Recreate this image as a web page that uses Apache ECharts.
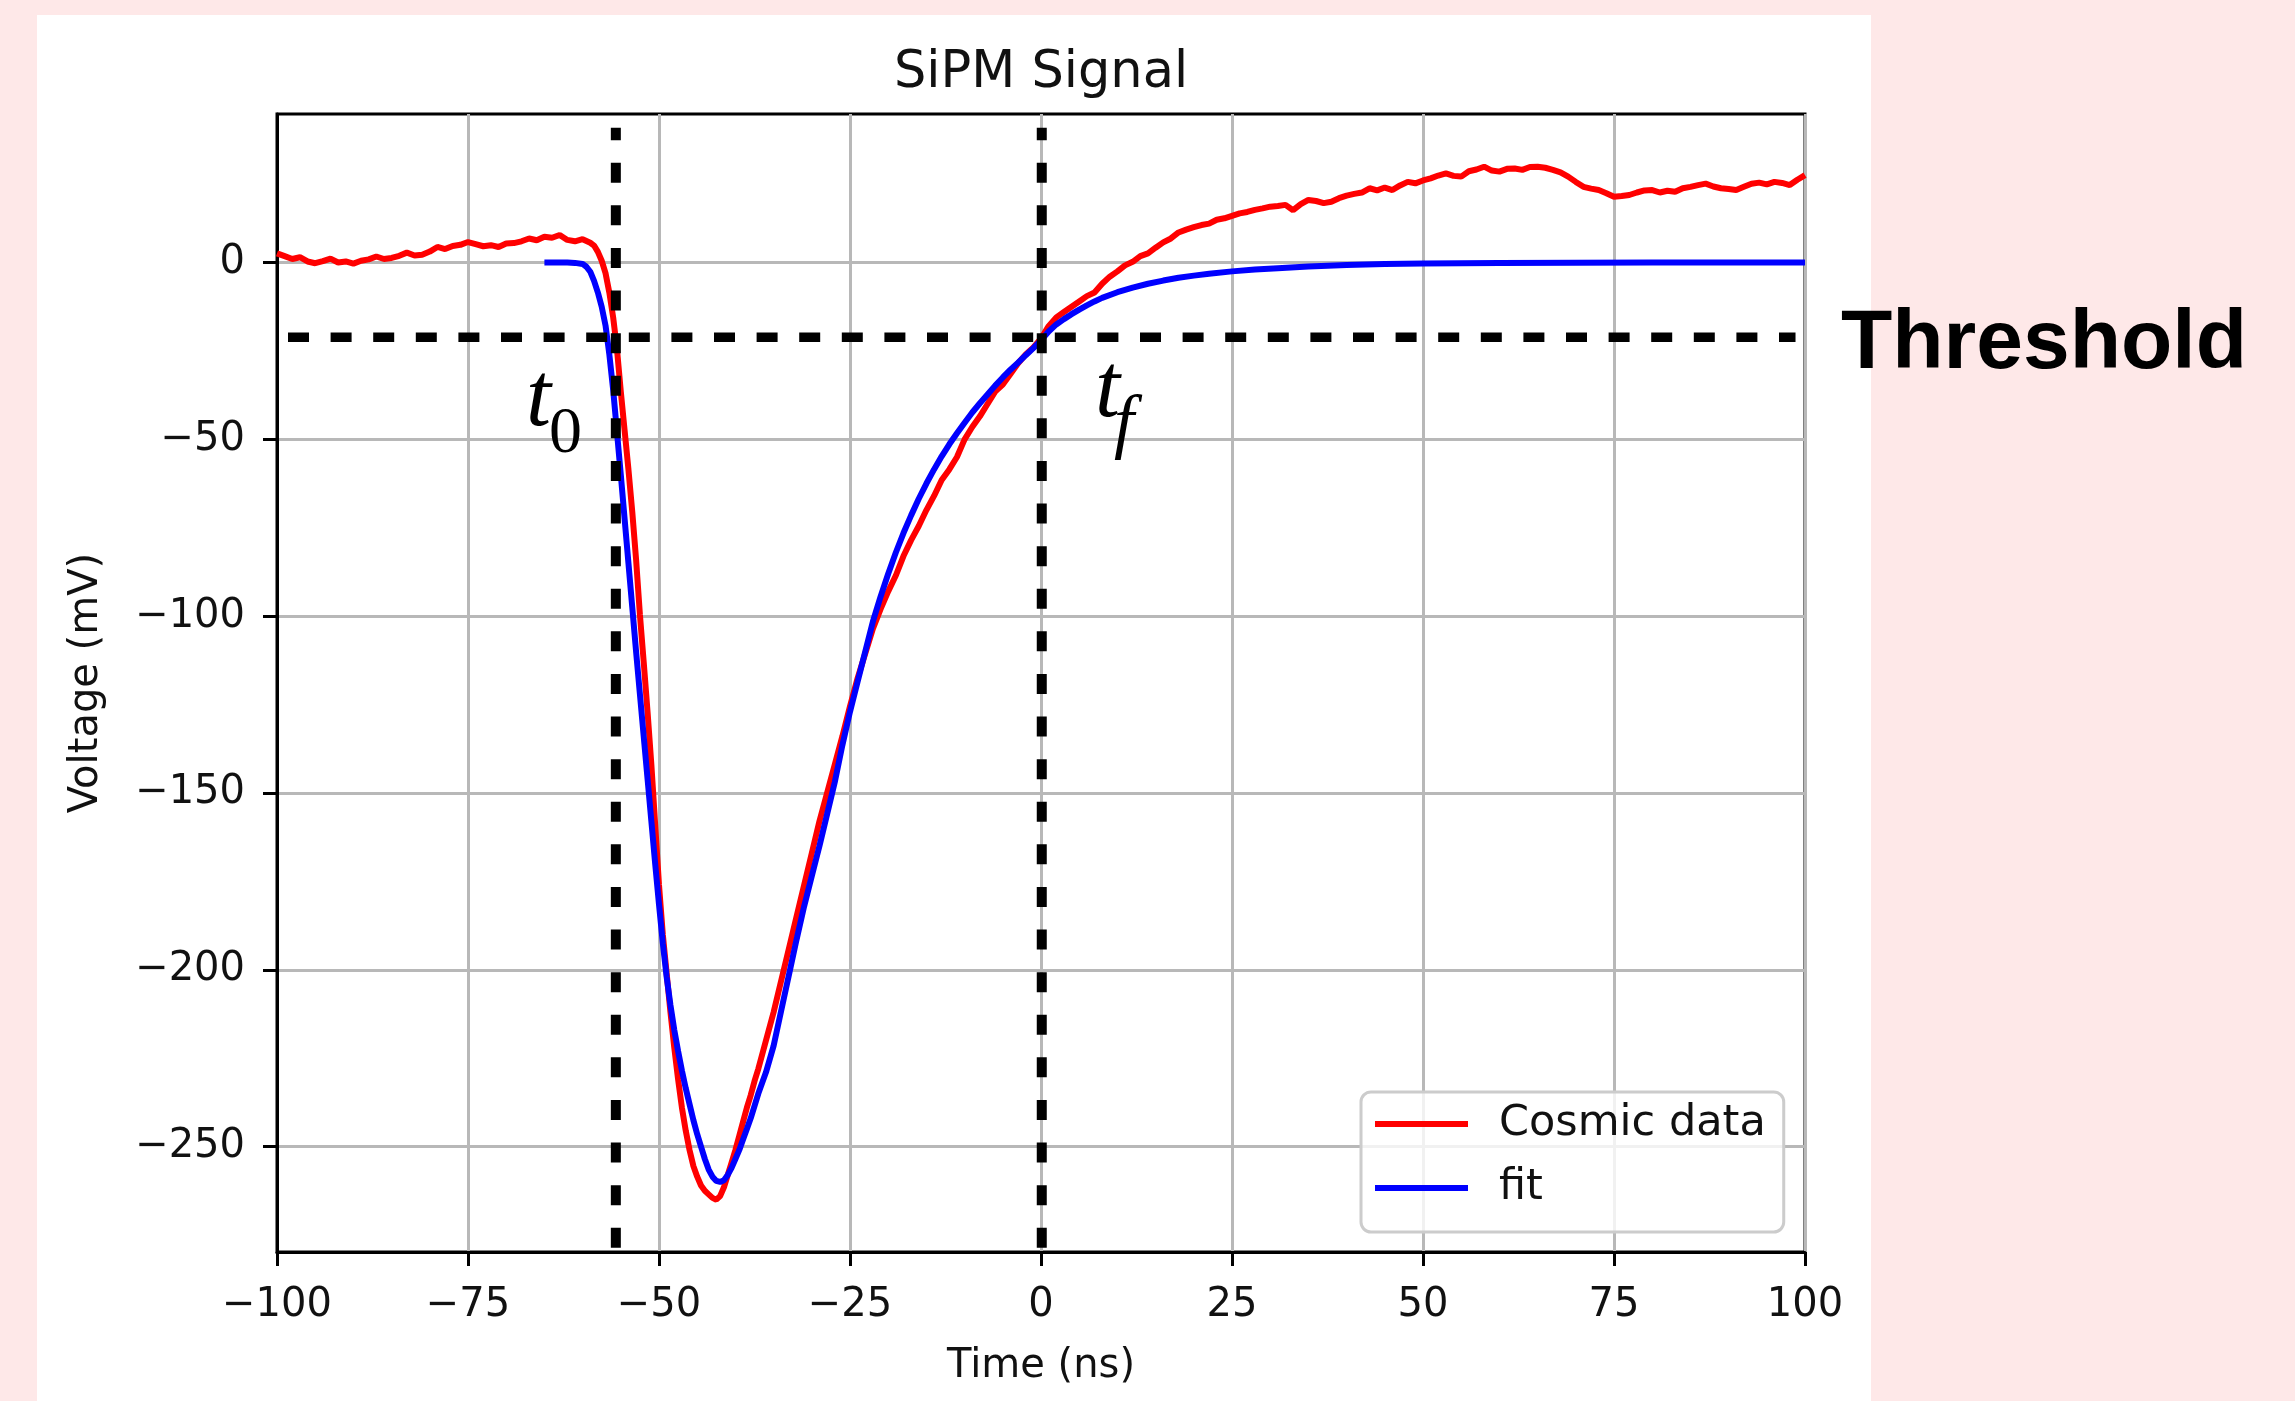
<!DOCTYPE html>
<html>
<head>
<meta charset="utf-8">
<script src="https://cdn.jsdelivr.net/npm/echarts@6/dist/echarts.min.js"></script>
<style>
  html, body { margin: 0; padding: 0; background: #fee8e8; }
  #panel { position: absolute; left: 37px; top: 15px; width: 1834px; height: 1386px; background: #ffffff; }
  #chart { position: absolute; left: 0; top: 0; width: 2295px; height: 1401px; }
</style>
</head>
<body>
<div id="panel"></div>
<div id="chart"></div>
<script>
// ---------- data ----------
const cosmicTime = [
  -100,-99,-98,-97,-96,-95,-94,-93,-92,-91,-90,-89,-88,-87,-86,-85,-84,-83,-82,-81,
  -80,-79,-78,-77,-76,-75,-74,-73,-72,-71,-70,-69,-68,-67,-66,-65,-64,-63,-62,-61,-60,-59,
  -58.5,-58,-57.5,-57,-56.5,-56,-55.5,-55,-54.5,-54,-53.5,-53,-52.5,-52,-51.5,-51,-50.5,-50,
  -49.5,-49,-48.5,-48,-47.5,-47,-46.5,-46,-45.5,-45,-44.5,-44,-43.5,-43,-42.5,-42,-41.5,-41,
  -40.5,-40,-39.5,-39,-38.5,-38,-37.5,
  -37,-36,-35,-34,-33,-32,-31,-30,-29,-28,-27,-26,-25,-24,-23,-22,-21,-20,-19,-18,-17,-16,
  -15,-14,-13,-12,-11,-10,-9,-8,-7,-6,-5,-4,-3,-2,-1,0,1,2,3,4,5,6,7,8,9,10,
  11,12,13,14,15,16,17,18,19,20,21,22,23,24,25,26,27,28,29,30,31,32,33,34,35,36,37,38,39,40,
  41,42,43,44,45,46,47,48,49,50,51,52,53,54,55,56,57,58,59,60,61,62,63,64,65,66,67,68,69,70,
  71,72,73,74,75,76,77,78,79,80,81,82,83,84,85,86,87,88,89,90,91,92,93,94,95,96,97,98,99,100
];
const cosmicVoltage = [
  2.6,1.8,1.0,1.5,0.3,-0.2,0.4,1.1,0.0,0.3,-0.3,0.5,0.9,1.7,1.0,1.3,1.9,2.8,2.0,2.2,
  3.1,4.4,3.8,4.7,5.0,5.8,5.2,4.6,4.9,4.4,5.4,5.5,6.0,6.8,6.3,7.3,7.0,7.8,6.4,6.0,6.6,5.6,
  4.8,3.0,0.5,-3.0,-8.5,-15.5,-24.5,-36.5,-47.5,-58.5,-70.5,-84,-99.5,-113,-127,-142,-159,-176,
  -190,-201,-212,-222,-231,-239,-245.5,-251,-255.5,-258.5,-261,-262.5,-263.5,-264.5,-265,-264,-261.5,-258,
  -254.5,-251,-247,-243,-239,-235.5,-231.5,
  -228,-220,-212,-203,-194,-185,-176,-167,-158,-150,-142,-134,-125.5,-117.5,-110.5,-103.5,-98,-93,-88.5,-83,-78.5,-74.5,
  -70,-66,-61.5,-58.5,-55,-50,-46.5,-43.5,-40,-36.5,-34.5,-31.5,-28.5,-26,-24,-21.5,-18,-15.5,-14,-12.5,-11,-9.5,-8.5,-6,-4,-2.5,
  -0.8,0.2,1.8,2.6,4.2,5.7,6.8,8.5,9.3,10.0,10.6,11.0,12.1,12.5,13.2,13.9,14.3,14.9,15.3,15.8,16.0,16.3,14.8,16.5,17.7,17.4,16.8,17.2,18.2,18.9,
  19.4,19.8,21.0,20.4,21.2,20.5,21.8,22.8,22.4,23.2,23.8,24.6,25.2,24.5,24.3,25.8,26.3,27.1,26.0,25.7,26.5,26.6,26.2,27.0,27.1,26.8,26.2,25.5,24.3,22.8,
  21.4,20.9,20.5,19.6,18.6,18.8,19.1,19.8,20.4,20.5,19.8,20.3,20.0,21.0,21.4,21.9,22.3,21.5,21.0,20.8,20.5,21.4,22.3,22.6,22.1,22.8,22.5,21.9,23.4,24.7
];
const fitTime = [
  -65,-64,-63,-62,-61,-60,-59.5,-59,-58.5,-58,-57.5,-57,-56.5,-56,-55.5,-55,-54.5,-54,-53.5,-53,
  -52.5,-52,-51.5,-51,-50.5,-50,-49.5,-49,-48.5,-48,-47.5,-47,-46.5,-46,-45.5,-45,-44.5,-44,-43.5,-43,
  -42.5,-42,-41.5,-41,-40.5,-40,-39.5,-39,-38.5,-38,
  -37,-36,-35,-34,-33,-32,-31,-30,-29,-28,-27,-26,-25,-24,-23,-22,-21,-20,-19,-18,-17,-16,-15,-14,-13,-12,-11,
  -10,-9,-8,-7,-6,-5,-4,-3,-2,-1,0,1,2,3,4,5,6,7,8,10,12,14,16,18,20,22,25,28,31,35,40,45,50,60,70,80,90,100
];
const fitVoltage = [
  0,0,0,0,-0.1,-0.4,-1.2,-2.6,-5.2,-8.5,-12.5,-17.8,-26,-36,-48,-60,-72.5,-85,-97.5,-110,
  -122,-134,-146,-158,-170,-181.5,-192.5,-202,-210,-217,-223,-228.5,-233.5,-238,-242.5,-246.5,-250,-253.5,-256.5,-258.5,
  -259.7,-260,-259.5,-258,-256,-253.5,-251,-248,-245,-242,
  -235,-229,-221.5,-211.5,-201.5,-191.5,-182,-173.5,-165,-156,-147,-136.5,-127,-118.5,-110,-101.5,-94.5,-88,-82,-76.5,-71.5,-66.8,-62.5,-58.5,-54.8,-51.4,-48.3,
  -45.3,-42.4,-39.8,-37.3,-34.8,-32.5,-30.3,-28.3,-26.2,-24.2,-22.0,-19.5,-17.5,-16.0,-14.6,-13.3,-12.1,-11.0,-10.0,-8.4,-7.1,-6.0,-5.1,-4.3,-3.7,-3.2,-2.5,-2.0,-1.6,-1.1,-0.7,-0.45,-0.3,-0.12,-0.05,-0.02,-0.01,0
];
const xTicks = [-100, -75, -50, -25, 0, 25, 50, 75, 100];
const yTicks = [-250, -200, -150, -100, -50, 0];
const xRange = [-100, 100];
const yRange = [-279.8, 42.0];
// annotation overlay (threshold and crossing times)
const thresholdLevel = -21.1;
const thresholdSpan = [-98.56, 98.76];
const t0Time = -55.65;
const tfTime = 0.1;
const markerSpan = [-278.6, 38.1];

// ---------- chart ----------
const pair = (xs, ys) => xs.map((x, i) => [x, ys[i]]);
const fmt = v => (v < 0 ? '\u2212' + Math.abs(v) : String(v));
const tickFont = { fontFamily: 'DejaVu Sans', fontSize: 40, color: '#111' };

const chart = echarts.init(document.getElementById('chart'), null, { renderer: 'canvas' });
chart.setOption({
  animation: false,
  backgroundColor: 'transparent',
  title: {
    text: 'SiPM Signal', left: 1041, top: 48, textAlign: 'center', padding: 0,
    textStyle: { fontFamily: 'DejaVu Sans', fontSize: 51, fontWeight: 'normal', color: '#111' }
  },
  grid: {
    left: 277, right: 490, top: 114, bottom: 149, containLabel: false,
    show: true, borderColor: '#000', borderWidth: 3, backgroundColor: 'transparent'
  },
  legend: {
    data: ['Cosmic data', 'fit'], orient: 'vertical', left: 1361, top: 1092,
    padding: [8, 18, 20, 14], itemGap: 16, itemWidth: 93, itemHeight: 6, icon: 'rect',
    backgroundColor: 'rgba(255,255,255,0.8)', borderColor: '#cccccc', borderWidth: 3, borderRadius: 10,
    textStyle: { fontFamily: 'DejaVu Sans', fontSize: 43, color: '#111', lineHeight: 48, padding: [0, 0, 0, 26] }
  },
  xAxis: {
    type: 'value', min: xRange[0], max: xRange[1], interval: 25,
    name: 'Time (ns)', nameLocation: 'middle', nameGap: 95,
    nameTextStyle: { fontFamily: 'DejaVu Sans', fontSize: 40, color: '#111' },
    axisLine: { onZero: false, lineStyle: { color: '#000', width: 3 } },
    axisTick: { show: true, inside: false, length: 14, customValues: xTicks, lineStyle: { color: '#000', width: 3 } },
    axisLabel: Object.assign({ margin: 34, customValues: xTicks, formatter: fmt }, tickFont),
    splitLine: { show: true, lineStyle: { color: '#b8b8b8', width: 3 } }
  },
  yAxis: {
    type: 'value', min: yRange[0], max: yRange[1],
    name: 'Voltage (mV)', nameLocation: 'middle', nameGap: 170,
    nameTextStyle: { fontFamily: 'DejaVu Sans', fontSize: 40, color: '#111' },
    axisLine: { onZero: false, lineStyle: { color: '#000', width: 3 } },
    axisTick: { show: true, inside: false, length: 14, customValues: yTicks, lineStyle: { color: '#000', width: 3 } },
    axisLabel: Object.assign({ margin: 32, customValues: yTicks, formatter: fmt }, tickFont),
    splitLine: { show: true, lineStyle: { color: '#b8b8b8', width: 3 } }
  },
  series: [
    { name: 'Cosmic data', type: 'line', data: pair(cosmicTime, cosmicVoltage), symbol: 'none', showSymbol: false,
      lineStyle: { color: '#ff0000', width: 6 }, itemStyle: { color: '#ff0000' }, z: 2 },
    { name: 'fit', type: 'line', data: pair(fitTime, fitVoltage), symbol: 'none', showSymbol: false,
      lineStyle: { color: '#0000ff', width: 6 }, itemStyle: { color: '#0000ff' }, z: 3 },
    { name: 'threshold', type: 'line', data: [[thresholdSpan[0], thresholdLevel], [thresholdSpan[1], thresholdLevel]],
      symbol: 'none', silent: true, lineStyle: { color: '#000', width: 9.5, type: [21, 21.6] }, z: 6 },
    { name: 't0', type: 'line', data: [[t0Time, markerSpan[0]], [t0Time, markerSpan[1]]],
      symbol: 'none', silent: true, lineStyle: { color: '#000', width: 10, type: [20, 22.6] }, z: 6 },
    { name: 'tf', type: 'line', data: [[tfTime, markerSpan[0]], [tfTime, markerSpan[1]]],
      symbol: 'none', silent: true, lineStyle: { color: '#000', width: 10, type: [20, 22.6] }, z: 6 }
  ],
  graphic: [
    { type: 'text', x: 1841, y: 345, z: 10,
      style: { text: 'Threshold', fontFamily: 'Liberation Sans', fontWeight: 'bold', fontSize: 84, fill: '#000', align: 'left', verticalAlign: 'middle' } },
    { type: 'text', x: 526, y: 401, z: 10,
      style: { text: 't', fontFamily: 'Liberation Serif', fontStyle: 'italic', fontSize: 90, fill: '#000', align: 'left', verticalAlign: 'middle' } },
    { type: 'text', x: 549, y: 435, z: 10,
      style: { text: '0', fontFamily: 'Liberation Serif', fontSize: 66, fill: '#000', align: 'left', verticalAlign: 'middle' } },
    { type: 'text', x: 1095, y: 392, z: 10,
      style: { text: 't', fontFamily: 'Liberation Serif', fontStyle: 'italic', fontSize: 90, fill: '#000', align: 'left', verticalAlign: 'middle' } },
    { type: 'text', x: 1114, y: 426, z: 10,
      style: { text: 'f', fontFamily: 'Liberation Serif', fontStyle: 'italic', fontSize: 72, fill: '#000', align: 'left', verticalAlign: 'middle' } }
  ]
});
</script>
</body>
</html>
